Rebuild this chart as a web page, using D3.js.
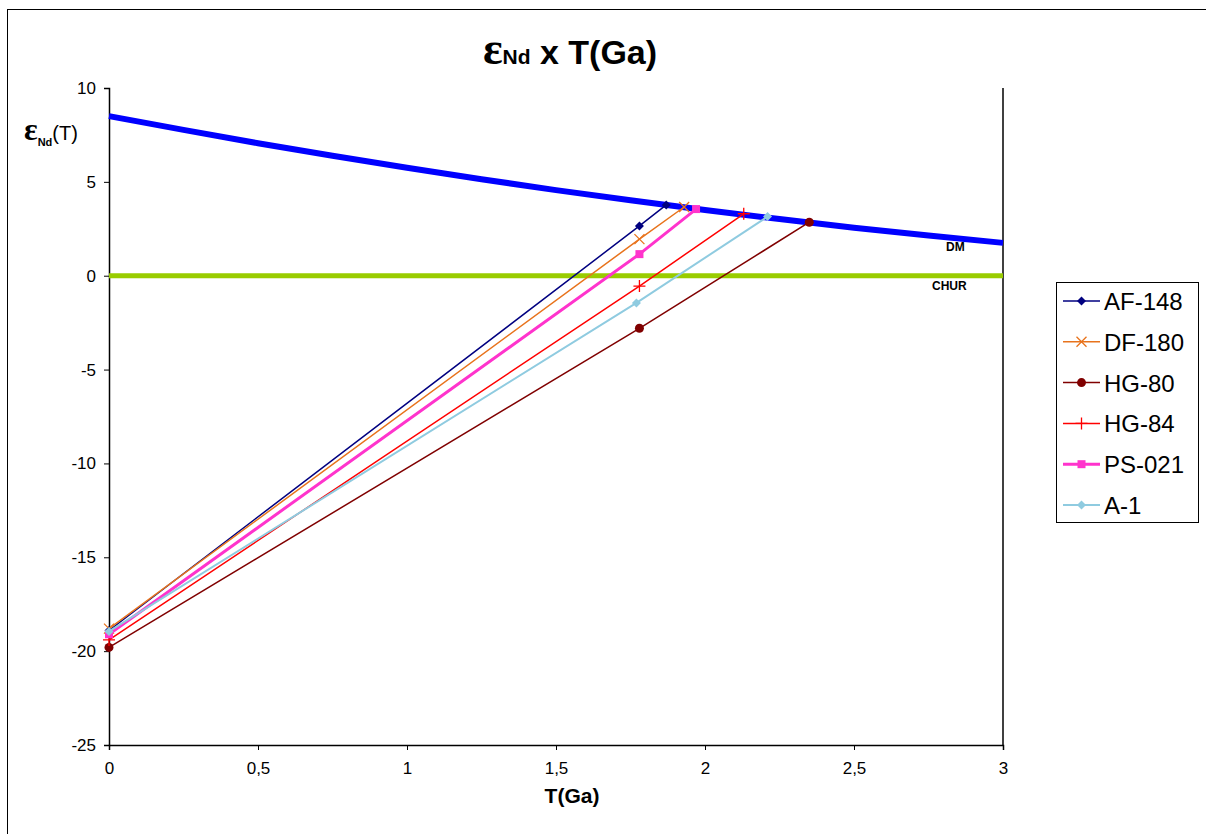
<!DOCTYPE html>
<html>
<head>
<meta charset="utf-8">
<script src="https://cdn.jsdelivr.net/npm/d3@7"></script>
<style>
  body { margin: 0; background: #fff; }
  svg { display: block; }
  .tick text { font-family: "Liberation Sans Narrow", "Arial Narrow", Arial, sans-serif; font-size: 17px; fill: #000; }
</style>
</head>
<body>
<div id="chart"></div>
<script>
// depleted mantle curve, T(Ga) vs eNd
const dmT = [0, 0.25, 0.5, 0.75, 1, 1.25, 1.5, 1.75, 2, 2.25, 2.5, 2.75, 3];
const dmE = [8.5, 7.77, 7.06, 6.39, 5.75, 5.14, 4.56, 4.02, 3.5, 3.02, 2.56, 2.14, 1.75];
const churT = [0, 3];
const churE = [0, 0];

// samples: present value, value at crystallisation age, T(DM)
const sampleNames = ["AF-148", "DF-180", "HG-80", "HG-84", "PS-021", "A-1"];
const sampleT = [
  [0, 1.78, 1.87],
  [0, 1.78, 1.93],
  [0, 1.78, 2.35],
  [0, 1.78, 2.13],
  [0, 1.78, 1.97],
  [0, 1.77, 2.21]
];
const sampleE = [
  [-18.9, 2.65, 3.77],
  [-18.8, 1.95, 3.66],
  [-19.8, -2.8, 2.85],
  [-19.4, -0.55, 3.3],
  [-19.1, 1.15, 3.55],
  [-18.95, -1.45, 3.15]
];
const xTicks = [0, 0.5, 1, 1.5, 2, 2.5, 3];
const yTicks = [10, 5, 0, -5, -10, -15, -20, -25];

const colors = ["#000080", "#E8731C", "#800000", "#FF0000", "#FF33CC", "#8FCBE0"];
const widths = [1.5, 1.5, 1.5, 1.5, 3, 2];
const markers = ["diamond", "x", "circle", "plus", "square", "diamond"];

const width = 1206, height = 834;
const margin = {top: 88, right: 203, bottom: 89, left: 109};
const innerW = width - margin.left - margin.right;
const innerH = height - margin.top - margin.bottom;

const svg = d3.select("#chart").append("svg")
  .attr("width", width)
  .attr("height", height);

// outer chart border
svg.append("rect")
  .attr("x", 7.5).attr("y", 9.5)
  .attr("width", width).attr("height", height)
  .attr("fill", "none").attr("stroke", "#000").attr("stroke-width", 1);

const x = d3.scaleLinear().domain([0, 3]).range([0, innerW]);
const y = d3.scaleLinear().domain([-25, 10]).range([innerH, 0]);

const g = svg.append("g").attr("transform", `translate(${margin.left},${margin.top})`);

//----------------------------------------
// Axes
//----------------------------------------
g.append("g")
  .attr("transform", `translate(0,${innerH})`)
  .call(d3.axisBottom(x).tickValues(xTicks).tickSize(5).tickPadding(12)
    .tickFormat(d => String(d).replace(".", ",")))
  .call(a => a.select(".domain").attr("stroke-width", 1.5));

g.append("g")
  .call(d3.axisLeft(y).tickValues(yTicks).tickSize(5).tickPadding(8)
    .tickFormat(d => String(d)))
  .call(a => a.select(".domain").attr("stroke-width", 1.5));

// right edge of plot area
g.append("line")
  .attr("x1", innerW).attr("x2", innerW)
  .attr("y1", 0).attr("y2", innerH)
  .attr("stroke", "#000").attr("stroke-width", 1.5);

//----------------------------------------
// Reference curves
//----------------------------------------
const line = d3.line().x(d => x(d[0])).y(d => y(d[1]));

g.append("path")
  .datum(churT.map((t, i) => [t, churE[i]]))
  .attr("d", line)
  .attr("fill", "none").attr("stroke", "#99CC00").attr("stroke-width", 5);

g.append("path")
  .datum(dmT.map((t, i) => [t, dmE[i]]))
  .attr("d", line)
  .attr("fill", "none").attr("stroke", "#0000FF").attr("stroke-width", 6);

g.append("text")
  .attr("x", x(2.84)).attr("y", y(1.3))
  .attr("text-anchor", "middle")
  .style("font", "bold 12px Arial, 'Liberation Sans', sans-serif")
  .text("DM");
g.append("text")
  .attr("x", x(2.82)).attr("y", y(-0.75))
  .attr("text-anchor", "middle")
  .style("font", "bold 12px Arial, 'Liberation Sans', sans-serif")
  .text("CHUR");

//----------------------------------------
// Markers
//----------------------------------------
function drawMarker(sel, type, color, cx, cy) {
  if (type === "diamond") {
    sel.append("path").attr("d", `M${cx},${cy-4.5}L${cx+4.5},${cy}L${cx},${cy+4.5}L${cx-4.5},${cy}Z`)
      .attr("fill", color);
  } else if (type === "square") {
    sel.append("rect").attr("x", cx-4).attr("y", cy-4).attr("width", 8).attr("height", 8).attr("fill", color);
  } else if (type === "circle") {
    sel.append("circle").attr("cx", cx).attr("cy", cy).attr("r", 4.5).attr("fill", color);
  } else if (type === "x") {
    sel.append("path").attr("d", `M${cx-5},${cy-5}L${cx+5},${cy+5}M${cx-5},${cy+5}L${cx+5},${cy-5}`)
      .attr("stroke", color).attr("stroke-width", 1.3);
  } else if (type === "plus") {
    sel.append("path").attr("d", `M${cx-6},${cy}L${cx+6},${cy}M${cx},${cy-6}L${cx},${cy+6}`)
      .attr("stroke", color).attr("stroke-width", 1.3);
  }
}

//----------------------------------------
// Sample evolution lines
//----------------------------------------
sampleNames.forEach((name, i) => {
  const pts = sampleT[i].map((t, j) => [t, sampleE[i][j]]);
  const sg = g.append("g");
  sg.append("path")
    .datum(pts)
    .attr("d", line)
    .attr("fill", "none")
    .attr("stroke", colors[i])
    .attr("stroke-width", widths[i]);
  pts.forEach(p => drawMarker(sg, markers[i], colors[i], x(p[0]), y(p[1])));
});

//----------------------------------------
// Legend
//----------------------------------------
const lg = svg.append("g").attr("transform", "translate(1056,282)");
lg.append("rect")
  .attr("x", 0.5).attr("y", 0.5).attr("width", 142).attr("height", 240)
  .attr("fill", "#fff").attr("stroke", "#000").attr("stroke-width", 1);

sampleNames.forEach((name, i) => {
  const ly = 19 + i * 40.8;
  lg.append("line")
    .attr("x1", 7).attr("x2", 44).attr("y1", ly).attr("y2", ly)
    .attr("stroke", colors[i]).attr("stroke-width", widths[i]);
  drawMarker(lg, markers[i], colors[i], 25.5, ly);
  lg.append("text")
    .attr("x", 48).attr("y", ly + 9)
    .style("font", "24px Arial, 'Liberation Sans', sans-serif")
    .text(name);
});

//----------------------------------------
// Titles
//----------------------------------------
const title = svg.append("text")
  .attr("x", 570).attr("y", 64)
  .attr("text-anchor", "middle")
  .style("font", "bold 34px Arial, 'Liberation Sans', sans-serif");
title.append("tspan").style("font-family", "'Liberation Serif', 'Times New Roman', serif").style("font-size", "46px").text("ε");
title.append("tspan").style("font-size", "21px").text("Nd");
title.append("tspan").text(" x T(Ga)");

const yl = svg.append("text")
  .attr("x", 24).attr("y", 140)
  .style("font", "bold 20px Arial, 'Liberation Sans', sans-serif");
yl.append("tspan").style("font-family", "'Liberation Serif', 'Times New Roman', serif").style("font-size", "32px").text("ε");
yl.append("tspan").attr("dy", 6).style("font-size", "11px").text("Nd");
yl.append("tspan").attr("dy", -6).style("font-weight", "normal").style("font-size", "20px").text("(T)");

svg.append("text")
  .attr("x", margin.left + innerW / 2 + 16).attr("y", 803)
  .attr("text-anchor", "middle")
  .style("font", "bold 21px 'Liberation Sans Narrow', 'Arial Narrow', Arial, sans-serif")
  .text("T(Ga)");
</script>
</body>
</html>
